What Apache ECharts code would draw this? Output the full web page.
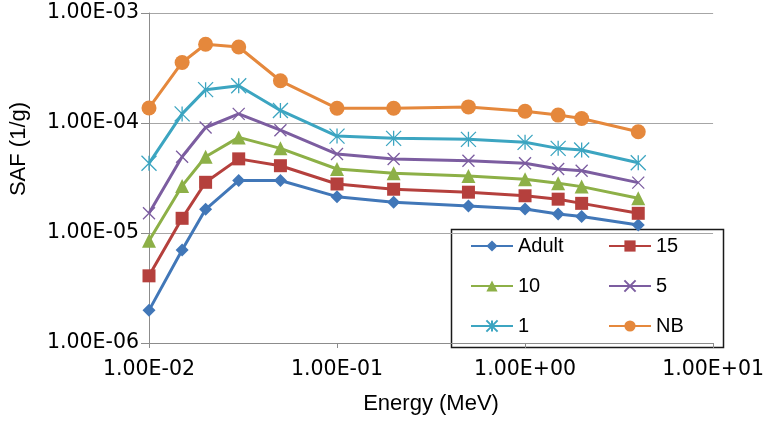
<!DOCTYPE html>
<html>
<head>
<meta charset="utf-8">
<script src="https://cdn.jsdelivr.net/npm/echarts@6/dist/echarts.min.js"></script>
<style>
html,body{margin:0;padding:0;background:#fff;}
#chart{width:767px;height:425px;}
</style>
</head>
<body>
<div id="chart"></div>
<script>
// Energies (MeV)
var energies = [0.01, 0.015, 0.02, 0.03, 0.05, 0.1, 0.2, 0.5, 1, 1.5, 2, 4];
// SAF (1/g)
var adult = [1.98e-6, 7.0e-6, 1.64e-5, 3.0e-5, 3.0e-5, 2.14e-5, 1.90e-5, 1.76e-5, 1.65e-5, 1.49e-5, 1.41e-5, 1.18e-5];
var age15 = [4.08e-6, 1.36e-5, 2.89e-5, 4.72e-5, 4.09e-5, 2.79e-5, 2.50e-5, 2.35e-5, 2.18e-5, 2.03e-5, 1.86e-5, 1.51e-5];
var age10 = [8.5e-6, 2.68e-5, 4.93e-5, 7.4e-5, 5.88e-5, 3.82e-5, 3.49e-5, 3.30e-5, 3.08e-5, 2.83e-5, 2.64e-5, 2.07e-5];
var age5 = [1.51e-5, 4.93e-5, 9.1e-5, 1.21e-4, 8.6e-5, 5.22e-5, 4.70e-5, 4.54e-5, 4.30e-5, 3.82e-5, 3.68e-5, 2.87e-5];
var age1 = [4.3e-5, 1.21e-4, 2.01e-4, 2.18e-4, 1.3e-4, 7.6e-5, 7.25e-5, 7.1e-5, 6.67e-5, 5.88e-5, 5.68e-5, 4.35e-5];
var newborn = [1.37e-4, 3.55e-4, 5.2e-4, 4.91e-4, 2.42e-4, 1.36e-4, 1.36e-4, 1.40e-4, 1.28e-4, 1.18e-4, 1.10e-4, 8.32e-5];
var seriesNames = ['Adult', '15', '10', '5', '1', 'NB'];
var xTickValues = [0.01, 0.1, 1, 10];
var xTickLabels = ['1.00E-02', '1.00E-01', '1.00E+00', '1.00E+01'];
var yTickValues = [1e-6, 1e-5, 1e-4, 1e-3];
var yTickLabels = ['1.00E-06', '1.00E-05', '1.00E-04', '1.00E-03'];
var xTitle = 'Energy (MeV)';
var yTitle = 'SAF (1/g)';

var values = [adult, age15, age10, age5, age1, newborn];
var colors = ['#4177B8', '#B5403D', '#8DB047', '#7C5DA0', '#3CA5C1', '#E5883C'];
var symbols = ['diamond', 'rect', 'triangle', 'path://M0,0L10,10M10,0L0,10', 'path://M0,0L10,10M10,0L0,10M5,0L5,10', 'circle'];
var sizes = [13, 13, 14, 12, 15, 15];
var FONT = '"Liberation Sans", Arial, sans-serif';
var TICKFONT = '"DejaVu Sans", sans-serif';

function labelFor(v, vals, labels) {
  var lv = Math.log10(v);
  for (var i = 0; i < vals.length; i++) {
    if (Math.abs(Math.log10(vals[i]) - lv) < 1e-6) return labels[i];
  }
  return '';
}

var series = seriesNames.map(function (name, i) {
  var isStroke = i === 3 || i === 4;
  return {
    name: name,
    type: 'line',
    data: energies.map(function (e, j) { return [e, values[i][j]]; }),
    symbol: symbols[i],
    symbolSize: sizes[i],
    symbolKeepAspect: true,
    showAllSymbol: true,
    color: colors[i],
    lineStyle: { width: 3, color: colors[i] },
    itemStyle: isStroke
      ? { color: 'rgba(0,0,0,0)', borderColor: colors[i], borderWidth: 1.3 }
      : { color: colors[i] },
    emphasis: { disabled: true },
    animation: false
  };
});

var chart = echarts.init(document.getElementById('chart'), null, { renderer: 'canvas' });
chart.setOption({
  backgroundColor: '#fff',
  animation: false,
  grid: { left: 149, right: 49, top: 13, bottom: 82, containLabel: false },
  xAxis: {
    type: 'log', logBase: 10, min: 0.01, max: 10,
    name: xTitle, nameLocation: 'middle', nameGap: 50,
    nameTextStyle: { fontFamily: FONT, fontSize: 22, color: '#000' },
    axisLine: { show: true, onZero: false, lineStyle: { color: '#8C8C8C', width: 1 } },
    axisTick: { show: true, inside: false, length: 5, lineStyle: { color: '#8C8C8C' } },
    minorTick: { show: false },
    splitLine: { show: false },
    axisLabel: {
      margin: 16, fontFamily: TICKFONT, fontSize: 20.5, color: '#000',
      formatter: function (v) { return labelFor(v, xTickValues, xTickLabels); }
    }
  },
  yAxis: {
    type: 'log', logBase: 10, min: 1e-6, max: 1e-3,
    axisLine: { show: true, lineStyle: { color: '#8C8C8C', width: 1 } },
    axisTick: { show: true, inside: false, length: 8, lineStyle: { color: '#8C8C8C' } },
    splitLine: { show: true, lineStyle: { color: '#A6A6A6', width: 1 } },
    axisLabel: {
      margin: 10, fontFamily: TICKFONT, fontSize: 20.5, color: '#000',
      formatter: function (v) { return labelFor(v, yTickValues, yTickLabels); }
    }
  },
  legend: [
    {
      data: [seriesNames[0], seriesNames[2], seriesNames[4]],
      orient: 'vertical', left: 470, top: 236, padding: 0,
      itemWidth: 42, itemHeight: 14, itemGap: 20,
      textStyle: { fontFamily: FONT, fontSize: 20, color: '#000' },
      selectedMode: false
    },
    {
      data: [seriesNames[1], seriesNames[3], seriesNames[5]],
      orient: 'vertical', left: 608, top: 236, padding: 0,
      itemWidth: 42, itemHeight: 14, itemGap: 20,
      textStyle: { fontFamily: FONT, fontSize: 20, color: '#000' },
      selectedMode: false
    }
  ],
  graphic: [
    {
      type: 'rect', left: 449, top: 227, silent: true,
      shape: { width: 272, height: 118 },
      style: { fill: 'none', stroke: '#1a1a1a', lineWidth: 1.5 }
    },
    {
      type: 'text', x: 19, y: 149, rotation: Math.PI / 2, silent: true,
      style: { text: yTitle, font: '22px ' + FONT, fill: '#000', align: 'center', verticalAlign: 'middle' }
    }
  ],
  series: series
});
</script>
</body>
</html>
